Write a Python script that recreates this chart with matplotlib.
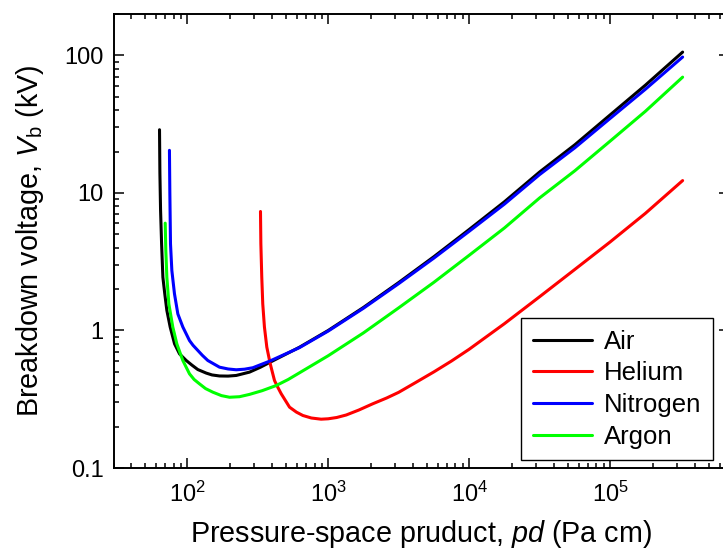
import matplotlib
matplotlib.use('Agg')
import matplotlib.pyplot as plt
from matplotlib.ticker import FuncFormatter, NullFormatter, LogLocator

plt.rcParams['font.family'] = ['Liberation Sans', 'DejaVu Sans']
plt.rcParams['mathtext.fontset'] = 'custom'
plt.rcParams['mathtext.rm'] = 'Liberation Sans'
plt.rcParams['mathtext.it'] = 'Liberation Sans:italic'

# Paschen curves: pd in Pa cm, breakdown voltage in kV
air_pd = [63.6, 64.0, 64.7, 65.8, 67.2, 69.3, 71.7, 75.7, 81.3, 88.2, 98.4,
          108, 118.9, 136.4, 150, 169.5, 195, 222.6, 276.6, 330, 383.6, 625,
          1000, 1778, 3162, 5623, 1.0e4, 17783, 31623, 56234, 1.0e5, 177828,
          3.27e5]
air_vb = [28.8, 14.0, 7.5, 4.27, 2.44, 1.85, 1.40, 1.06, 0.80, 0.676, 0.605,
          0.56, 0.52, 0.49, 0.475, 0.467, 0.466, 0.471, 0.498, 0.54, 0.585,
          0.755, 1.0, 1.47, 2.23, 3.44, 5.42, 8.62, 14.2, 22.4, 36.9, 60.7,
          105.7]

helium_pd = [331, 333, 338, 343.5, 353, 367, 388, 416, 440, 464, 532, 595,
             661, 760, 891, 1000, 1150, 1343, 1650, 2070, 2600, 3162, 4200,
             5623, 7500, 1.0e4, 17783, 31623, 56234, 1.0e5, 177828, 3.27e5]
helium_vb = [7.33, 4.27, 2.44, 1.56, 1.06, 0.757, 0.573, 0.433, 0.385, 0.347,
             0.277, 0.255, 0.241, 0.231, 0.2265, 0.228, 0.233, 0.243, 0.264,
             0.293, 0.323, 0.355, 0.42, 0.50, 0.60, 0.73, 1.12, 1.76, 2.78,
             4.40, 7.1, 12.3]

nitrogen_pd = [74.8, 75.3, 76.1, 77.8, 81.2, 85.8, 93.1, 103.8, 110, 118.9,
               128, 140, 155, 169.5, 195, 222.6, 255, 292, 383.6, 625, 1000,
               1778, 3162, 5623, 1.0e4, 17783, 31623, 56234, 1.0e5, 177828,
               3.27e5]
nitrogen_vb = [20.4, 10.0, 4.27, 2.73, 1.85, 1.32, 1.06, 0.845, 0.78, 0.716,
               0.66, 0.605, 0.57, 0.541, 0.525, 0.518, 0.523, 0.536, 0.598,
               0.75, 0.99, 1.45, 2.19, 3.36, 5.26, 8.29, 13.6, 21.3, 34.8,
               56.7, 97.3]

argon_pd = [69.8, 70.5, 71.7, 74.1, 79.0, 84.4, 93.1, 103.8, 112, 122.3, 135,
            152, 175, 199.6, 235, 276.6, 340, 428, 520, 625, 1000, 1778, 3162,
            5623, 1.0e4, 17783, 31623, 56234, 1.0e5, 177828, 3.27e5]
argon_vb = [6.03, 3.82, 2.44, 1.56, 1.06, 0.80, 0.605, 0.484, 0.44, 0.409,
            0.378, 0.356, 0.336, 0.327, 0.33, 0.343, 0.365, 0.398, 0.44,
            0.492, 0.655, 0.96, 1.46, 2.24, 3.52, 5.56, 9.2, 14.5, 23.8, 39.2,
            69.5]

series = [
    ('Air', air_pd, air_vb, 'black'),
    ('Helium', helium_pd, helium_vb, '#ff0000'),
    ('Nitrogen', nitrogen_pd, nitrogen_vb, '#0000ff'),
    ('Argon', argon_pd, argon_vb, '#00ff00'),
]

fig = plt.figure(figsize=(7.23, 5.49), dpi=100)
ax = fig.add_axes([0.157, 0.1475, 0.8516, 0.827])

for name, x, y, c in series:
    ax.plot(x, y, color=c, lw=2.2, label=name, solid_capstyle='round')

ax.set_xscale('log')
ax.set_yscale('log')
ax.set_xlim(30, 7e5)
ax.set_ylim(0.1, 200)

ax.xaxis.set_major_locator(LogLocator(base=10, numticks=10))
ax.xaxis.set_minor_locator(LogLocator(base=10, subs=range(2, 10), numticks=20))
ax.xaxis.set_minor_formatter(NullFormatter())
ax.yaxis.set_minor_formatter(NullFormatter())
ax.yaxis.set_major_formatter(FuncFormatter(lambda v, p: f'{v:g}'))

for s in ax.spines.values():
    s.set_linewidth(1.4)
ax.tick_params(which='both', direction='in', top=True, right=True,
               labelsize=17, width=1.1)
ax.tick_params(which='major', length=7)
ax.tick_params(which='minor', length=3.8)
ax.tick_params(axis='x', pad=10)
ax.tick_params(axis='y', pad=7)

ax.set_xlabel(r'Pressure-space pruduct, $\mathit{pd}$ (Pa cm)', fontsize=20.7,
              labelpad=8)
ax.set_ylabel(r'Breakdown voltage, $\mathit{V}_{\mathrm{b}}$ (kV)',
              fontsize=20.7, labelpad=13)

leg = ax.legend(loc='upper left', bbox_to_anchor=(0.6626, 0.330),
                borderaxespad=0, fontsize=18.5, fancybox=False,
                framealpha=1, edgecolor='black', handlelength=2.3,
                handletextpad=0.45, labelspacing=0.30, borderpad=0.45)
leg.get_frame().set_linewidth(1.0)

fig.savefig('out.png', dpi=100)
